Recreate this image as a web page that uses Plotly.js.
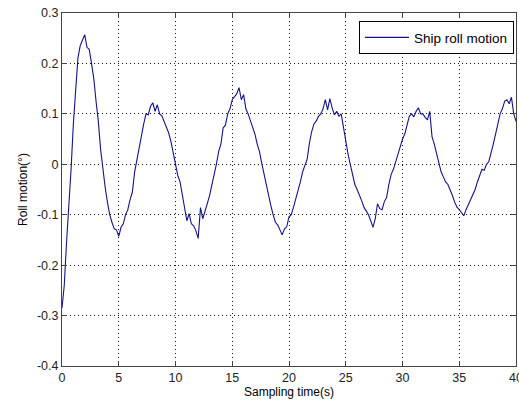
<!DOCTYPE html>
<html>
<head>
<meta charset="utf-8">
<script src="https://cdn.plot.ly/plotly-3.0.1.min.js"></script>
<style>html,body{margin:0;padding:0;background:#fff;}#chart{width:519px;height:407px;}</style>
</head>
<body>
<div id="chart"></div>
<script>
// Sampling time (s), step 0.2
const samplingTime = [];
for (let i = 0; i <= 200; i++) samplingTime.push(+(i * 0.2).toFixed(1));

// Ship roll motion (°)
const rollMotion = [
  -0.285, -0.24, -0.155, -0.085, -0.01, 0.08, 0.155, 0.21, 0.235, 0.245,
  0.257, 0.232, 0.228, 0.2, 0.17, 0.125, 0.085, 0.03, -0.01, -0.045,
  -0.075, -0.1, -0.115, -0.128, -0.13, -0.143, -0.125, -0.118, -0.1, -0.09,
  -0.07, -0.055, -0.015, 0.01, 0.035, 0.062, 0.08, 0.1, 0.098, 0.115,
  0.122, 0.105, 0.118, 0.1, 0.096, 0.085, 0.075, 0.062, 0.045, 0.02,
  -0.005, -0.022, -0.035, -0.06, -0.088, -0.112, -0.098, -0.118, -0.122, -0.132,
  -0.147, -0.086, -0.108, -0.09, -0.078, -0.062, -0.042, -0.02, 0.0, 0.025,
  0.04, 0.072, 0.078, 0.1, 0.11, 0.128, 0.135, 0.14, 0.152, 0.128,
  0.138, 0.11, 0.1, 0.087, 0.075, 0.06, 0.04, 0.025, 0.002, -0.02,
  -0.045, -0.065, -0.082, -0.1, -0.115, -0.12, -0.132, -0.14, -0.128, -0.124,
  -0.104, -0.1, -0.085, -0.07, -0.05, -0.035, -0.015, 0.0, 0.01, 0.042,
  0.065, 0.08, 0.086, 0.095, 0.1, 0.11, 0.128, 0.108, 0.13, 0.112,
  0.098, 0.105, 0.095, 0.1, 0.07, 0.045, 0.02, 0.0, -0.02, -0.04,
  -0.05, -0.06, -0.072, -0.085, -0.092, -0.1, -0.112, -0.125, -0.108, -0.078,
  -0.088, -0.09, -0.074, -0.066, -0.04, -0.02, -0.01, 0.005, 0.025, 0.04,
  0.05, 0.06, 0.08, 0.095, 0.1, 0.094, 0.105, 0.112, 0.1, 0.1,
  0.093, 0.088, 0.105, 0.055, 0.04, 0.02, 0.005, -0.015, -0.025, -0.035,
  -0.04, -0.05, -0.062, -0.075, -0.085, -0.09, -0.095, -0.102, -0.09, -0.08,
  -0.07, -0.06, -0.05, -0.035, -0.02, -0.01, -0.012, 0.0, 0.005, 0.02,
  0.04, 0.06, 0.08, 0.1, 0.11, 0.125, 0.128, 0.12, 0.133, 0.1,
  0.085, 0.05, 0.015
];

const xTicks = [0, 5, 10, 15, 20, 25, 30, 35, 40];
const yTicks = [-0.4, -0.3, -0.2, -0.1, 0, 0.1, 0.2, 0.3];
const yTickLabels = ['-0.4', '-0.3', '-0.2', '-0.1', '0', '0.1', '0.2', '0.3'];

const FONT = 'Liberation Sans, Arial, sans-serif';
const axisCommon = {
  showline: true, linecolor: '#444', linewidth: 1, mirror: 'ticks',
  ticks: 'inside', ticklen: 5, tickcolor: '#444',
  showgrid: true, gridcolor: '#111', griddash: '1px,3px', gridwidth: 1,
  zeroline: false, ticklabeloverflow: 'allow',
  tickfont: {family: FONT, size: 12.5, color: '#222'}
};

const trace = {
  x: samplingTime, y: rollMotion, type: 'scatter', mode: 'lines',
  name: 'Ship roll motion',
  line: {color: '#14148a', width: 1.1}
};

const layout = {
  width: 519, height: 407,
  margin: {l: 62, r: 3, t: 13, b: 41},
  paper_bgcolor: '#fff', plot_bgcolor: '#fff',
  showlegend: true,
  legend: {
    x: 0.9956, xanchor: 'right', y: 0.977, yanchor: 'top',
    bgcolor: '#fff', bordercolor: '#000', borderwidth: 1,
    font: {family: FONT, size: 13.5, color: '#000'},
    itemwidth: 44, tracegroupgap: 0
  },
  xaxis: Object.assign({}, axisCommon, {
    range: [0, 40], tickvals: xTicks, ticktext: xTicks.map(String),
    title: {text: 'Sampling time(s)', standoff: 2,
            font: {family: FONT, size: 12, color: '#000'}}
  }),
  yaxis: Object.assign({}, axisCommon, {
    range: [-0.4, 0.3], tickvals: yTicks, ticktext: yTickLabels,
    title: {text: 'Roll motion(°)', standoff: 6,
            font: {family: FONT, size: 12, color: '#000'}}
  })
};

Plotly.newPlot('chart', [trace], layout, {displayModeBar: false, staticPlot: true});
</script>
</body>
</html>
